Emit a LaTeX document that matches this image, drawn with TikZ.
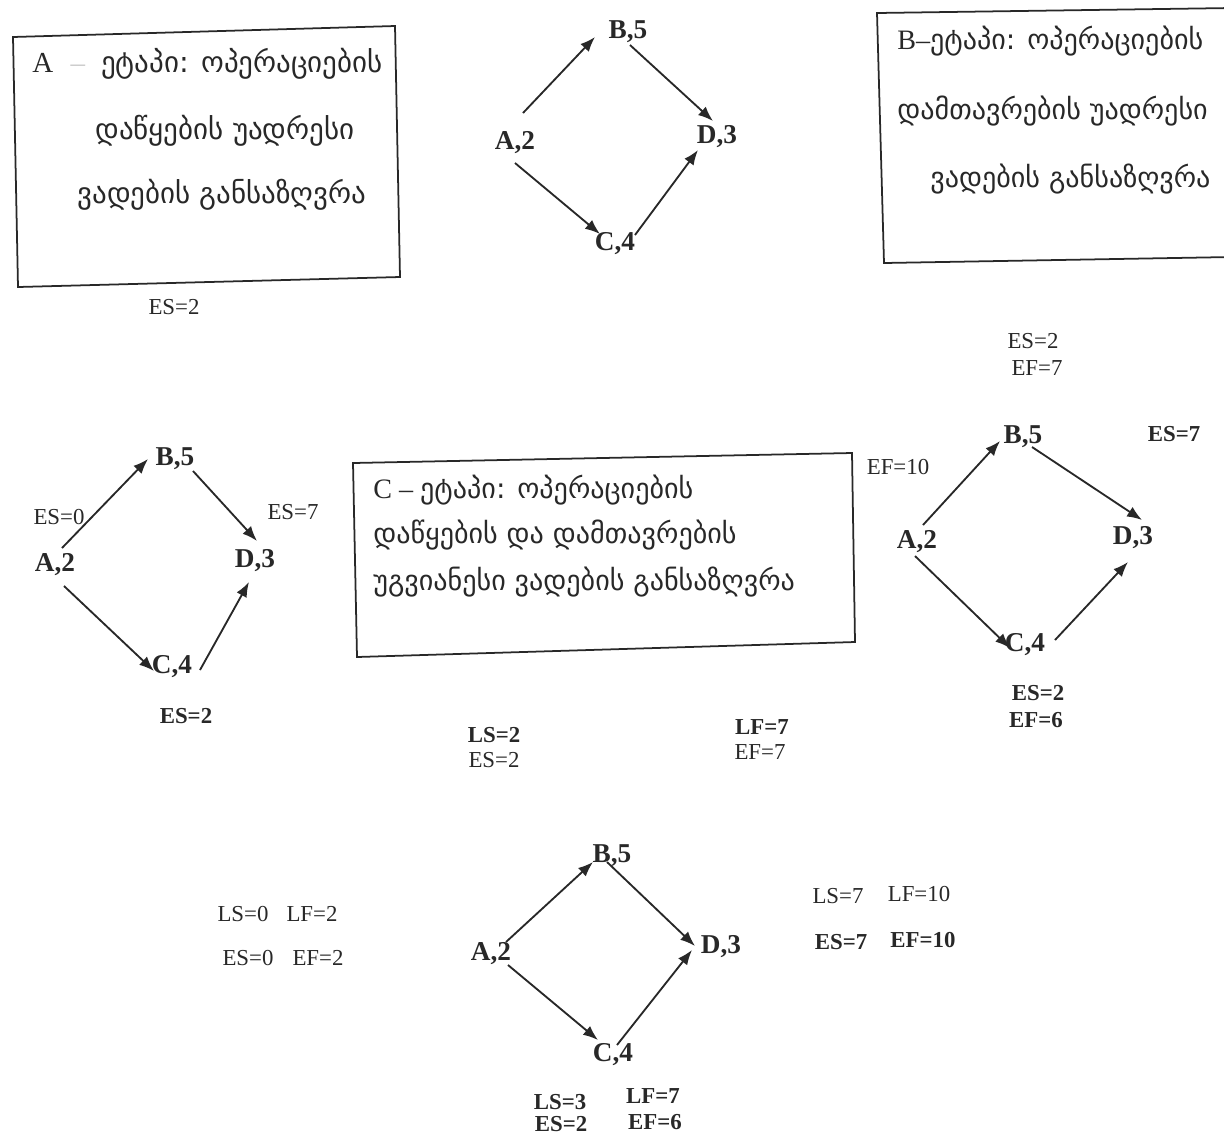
\documentclass[tikz,border=0pt]{standalone}
\usepackage{fontspec}
\setmainfont{Liberation Serif}
\newfontfamily\geo{DejaVu Sans}
\usetikzlibrary{arrows.meta,calc}
\definecolor{ink}{RGB}{40,40,40}
\tikzset{
  act/.style={font=\fontsize{15.5}{18}\selectfont\bfseries, text=ink, inner sep=1pt},
  val/.style={font=\fontsize{13}{15}\selectfont, text=ink, inner sep=1pt},
  valb/.style={font=\fontsize{13}{15}\selectfont\bfseries, text=ink, inner sep=1pt},
  link/.style={draw=ink, line width=1.05pt, -{Latex[length=8.5pt,width=6.5pt]}},
  frame/.style={draw=ink, line width=1pt},
  geoA/.style={font=\fontsize{16.5}{19}\selectfont, text=ink, inner sep=0pt},
  geoB/.style={font=\fontsize{16}{19}\selectfont, text=ink, inner sep=0pt},
}
\begin{document}
\begin{tikzpicture}[x=0.02cm,y=-0.02cm]
\useasboundingbox (0,0) rectangle (1224,1137);

% ---- stage A frame and caption
\draw[frame] (13,37) -- (395,26) -- (400,277) -- (18,287) -- cycle;
\node[geoA, anchor=west] (ta1) at (32,64) {A\hspace{0.6em}{\color{gray!40}–}\hspace{0.55em}{\geo ეტაპი: ოპერაციების}};
\node[geoA] (ta2) at (225,131) {\geo დაწყების უადრესი};
\node[geoA] (ta3) at (222,195) {\geo ვადების განსაზღვრა};

% ---- stage B frame and caption
\draw[frame] (1232,8) -- (877,13) -- (884,263) -- (1232,257);
\node[geoB, anchor=west] (tb1) at (897,41) {B–{\geo ეტაპი: ოპერაციების}};
\node[geoB, anchor=west] (tb2) at (897,111) {\geo დამთავრების უადრესი};
\node[geoB, anchor=west] (tb3) at (930,179) {\geo ვადების განსაზღვრა};

% ---- stage C frame and caption
\draw[frame] (353,463) -- (852,453) -- (855,642) -- (357,657) -- cycle;
\node[geoB, anchor=west] (tc1) at (373,490) {C – {\geo ეტაპი: ოპერაციების}};
\node[geoB, anchor=west] (tc2) at (373,535) {\geo დაწყების და დამთავრების};
\node[geoB, anchor=west] (tc3) at (373,582) {\geo უგვიანესი ვადების განსაზღვრა};

% ---- network 1 (top)
\node[act] (A1) at (515,143) {A,2};
\node[act] (B1) at (628,32) {B,5};
\node[act] (D1) at (717,137) {D,3};
\node[act] (C1) at (615,244) {C,4};
\draw[link] ($(A1)+(8,-30)$) -- ($(B1)+(-33,5)$);
\draw[link] ($(B1)+(2,13)$) -- ($(D1)+(-4,-16)$);
\draw[link] ($(A1)+(0,20)$) -- ($(C1)+(-15,-10)$);
\draw[link] ($(C1)+(20,-9)$) -- ($(D1)+(-19,13)$);
\node[val] (es0) at (174,307) {ES=2};

% ---- network 2 (left)
\node[act] (A2) at (55,565) {A,2};
\node[act] (B2) at (175,459) {B,5};
\node[act] (D2) at (255,561) {D,3};
\node[act] (C2) at (172,667) {C,4};
\draw[link] ($(A2)+(7,-17)$) -- ($(B2)+(-27,0)$);
\draw[link] ($(B2)+(18,12)$) -- ($(D2)+(2,-20)$);
\draw[link] ($(A2)+(9,21)$) -- ($(C2)+(-18,4)$);
\draw[link] ($(C2)+(28,3)$) -- ($(D2)+(-6,21)$);
\node[val] (es2a) at (59,517) {ES=0};
\node[val] (es2d) at (293,512) {ES=7};
\node[valb] (es2c) at (186,716) {ES=2};

% ---- network 3 (right)
\node[act] (A3) at (917,542) {A,2};
\node[act] (B3) at (1023,437) {B,5};
\node[act] (D3) at (1133,538) {D,3};
\node[act] (C3) at (1025,645) {C,4};
\draw[link] ($(A3)+(6,-17)$) -- ($(B3)+(-23,4)$);
\draw[link] ($(B3)+(9,10)$) -- ($(D3)+(9,-18)$);
\draw[link] ($(A3)+(-2,14)$) -- ($(C3)+(-15,3)$);
\draw[link] ($(C3)+(30,-5)$) -- ($(D3)+(-5,24)$);
\node[val] (es3b) at (1033,341) {ES=2};
\node[val] (ef3b) at (1037,368) {EF=7};
\node[val] (ef3a) at (898,467) {EF=10};
\node[valb] (es3d) at (1174,434) {ES=7};
\node[valb] (es3c) at (1038,693) {ES=2};
\node[valb] (ef3c) at (1036,720) {EF=6};

% ---- values between networks
\node[valb] (ls5) at (494,735) {LS=2};
\node[val] (es5) at (494,760) {ES=2};
\node[valb] (lf5) at (762,727) {LF=7};
\node[val] (ef5) at (760,752) {EF=7};

% ---- network 4 (bottom)
\node[act] (A4) at (491,954) {A,2};
\node[act] (B4) at (612,856) {B,5};
\node[act] (D4) at (721,947) {D,3};
\node[act] (C4) at (613,1055) {C,4};
\draw[link] ($(A4)+(15,-12)$) -- ($(B4)+(-19,6)$);
\draw[link] ($(B4)+(-5,6)$) -- ($(D4)+(-26,-1)$);
\draw[link] ($(A4)+(17,11)$) -- ($(C4)+(-15,-15)$);
\draw[link] ($(C4)+(4,-10)$) -- ($(D4)+(-29,3)$);
\node[val] (ls4a) at (243,914) {LS=0};
\node[val] (lf4a) at (312,914) {LF=2};
\node[val] (es4a) at (248,958) {ES=0};
\node[val] (ef4a) at (318,958) {EF=2};
\node[val] (ls4d) at (838,896) {LS=7};
\node[val] (lf4d) at (919,894) {LF=10};
\node[valb] (es4d) at (841,942) {ES=7};
\node[valb] (ef4d) at (923,940) {EF=10};
\node[valb] (ls4c) at (560,1102) {LS=3};
\node[valb] (lf4c) at (653,1096) {LF=7};
\node[valb] (es4c) at (561,1124) {ES=2};
\node[valb] (ef4c) at (655,1122) {EF=6};
\end{tikzpicture}
\end{document}
